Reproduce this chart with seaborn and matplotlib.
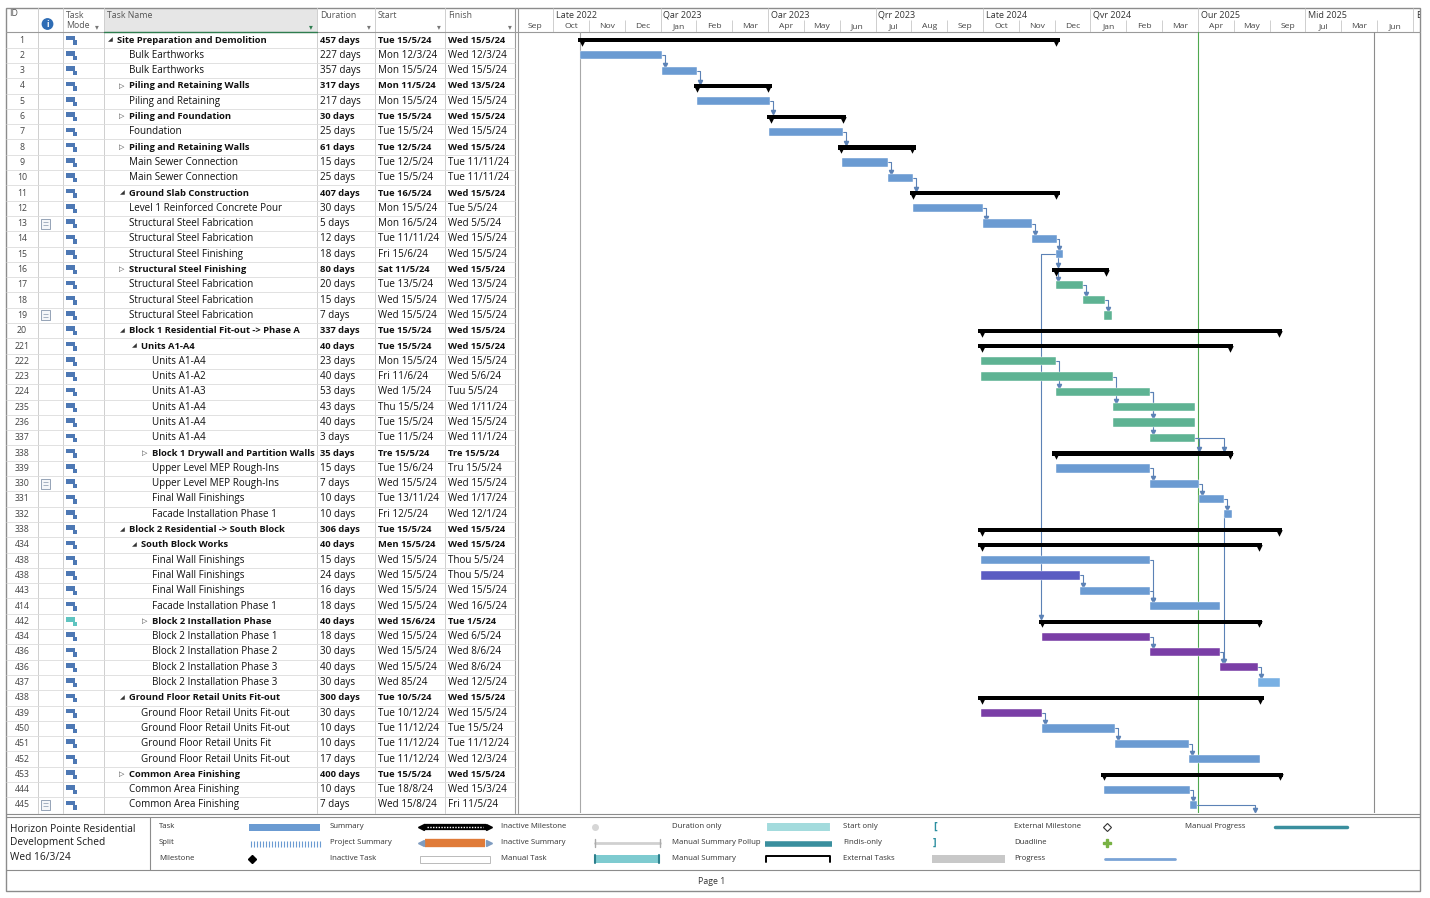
import numpy as np
import seaborn as sns
import matplotlib.pyplot as plt
from matplotlib.patches import Rectangle, Circle

sns.set_theme(style="white")
plt.rcParams['font.family'] = ['Open Sans', 'DejaVu Sans']

W, H = 1430, 898

# ---- task table ----
task_ids = [1, 2, 3, 4, 5, 6, 7, 8, 9, 10, 11, 12, 13, 14, 15, 16, 17, 18, 19, 20,
            221, 222, 223, 224, 235, 236, 337, 338, 339, 330, 331, 332,
            338, 434, 438, 438, 443, 414, 442, 434, 436, 436, 437,
            438, 439, 450, 451, 452, 453, 444, 445]
task_names = [
    "Site Preparation and Demolition", "Bulk Earthworks", "Bulk Earthworks",
    "Piling and Retaining Walls", "Piling and Retaining", "Piling and Foundation",
    "Foundation", "Piling and Retaining Walls", "Main Sewer Connection",
    "Main Sewer Connection", "Ground Slab Construction", "Level 1 Reinforced Concrete Pour",
    "Structural Steel Fabrication", "Structural Steel Fabrication", "Structural Steel Finishing",
    "Structural Steel Finishing", "Structural Steel Fabrication", "Structural Steel Fabrication",
    "Structural Steel Fabrication", "Block 1 Residential Fit-out -> Phase A",
    "Units A1-A4", "Units A1-A4", "Units A1-A2", "Units A1-A3", "Units A1-A4",
    "Units A1-A4", "Units A1-A4", "Block 1 Drywall and Partition Walls",
    "Upper Level MEP Rough-Ins", "Upper Level MEP Rough-Ins", "Final Wall Finishings",
    "Facade Installation Phase 1", "Block 2 Residential -> South Block", "South Block Works",
    "Final Wall Finishings", "Final Wall Finishings", "Final Wall Finishings",
    "Facade Installation Phase 1", "Block 2 Installation Phase", "Block 2 Installation Phase 1",
    "Block 2 Installation Phase 2", "Block 2 Installation Phase 3", "Block 2 Installation Phase 3",
    "Ground Floor Retail Units Fit-out", "Ground Floor Retail Units Fit-out",
    "Ground Floor Retail Units Fit-out", "Ground Floor Retail Units Fit",
    "Ground Floor Retail Units Fit-out", "Common Area Finishing", "Common Area Finishing",
    "Common Area Finishing"]
durations = ["457 days", "227 days", "357 days", "317 days", "217 days", "30 days", "25 days",
             "61 days", "15 days", "25 days", "407 days", "30 days", "5 days", "12 days",
             "18 days", "80 days", "20 days", "15 days", "7 days", "337 days",
             "40 days", "23 days", "40 days", "53 days", "43 days", "40 days", "3 days",
             "35 days", "15 days", "7 days", "10 days", "10 days",
             "306 days", "40 days", "15 days", "24 days", "16 days", "18 days", "40 days",
             "18 days", "30 days", "40 days", "30 days",
             "300 days", "30 days", "10 days", "10 days", "17 days", "400 days", "10 days", "7 days"]
start_dates = ["Tue 15/5/24", "Mon 12/3/24", "Mon 15/5/24", "Mon 11/5/24", "Mon 15/5/24",
               "Tue 15/5/24", "Tue 15/5/24", "Tue 12/5/24", "Tue 12/5/24", "Tue 15/5/24",
               "Tue 16/5/24", "Mon 15/5/24", "Mon 16/5/24", "Tue 11/11/24", "Fri 15/6/24",
               "Sat 11/5/24", "Tue 13/5/24", "Wed 15/5/24", "Wed 15/5/24", "Tue 15/5/24",
               "Tue 15/5/24", "Mon 15/5/24", "Fri 11/6/24", "Wed 1/5/24", "Thu 15/5/24",
               "Tue 15/5/24", "Tue 11/5/24", "Tre 15/5/24", "Tue 15/6/24", "Wed 15/5/24",
               "Tue 13/11/24", "Fri 12/5/24", "Tue 15/5/24", "Men 15/5/24", "Wed 15/5/24",
               "Wed 15/5/24", "Wed 15/5/24", "Wed 15/5/24", "Wed 15/6/24", "Wed 15/5/24",
               "Wed 15/5/24", "Wed 15/5/24", "Wed 85/24", "Tue 10/5/24", "Tue 10/12/24",
               "Tue 11/12/24", "Tue 11/12/24", "Tue 11/12/24", "Tue 15/5/24", "Tue 18/8/24",
               "Wed 15/8/24"]
finish_dates = ["Wed 15/5/24", "Wed 12/3/24", "Wed 15/5/24", "Wed 13/5/24", "Wed 15/5/24",
                "Wed 15/5/24", "Wed 15/5/24", "Wed 15/5/24", "Tue 11/11/24", "Tue 11/11/24",
                "Wed 15/5/24", "Tue 5/5/24", "Wed 5/5/24", "Wed 15/5/24", "Wed 15/5/24",
                "Wed 15/5/24", "Wed 13/5/24", "Wed 17/5/24", "Wed 15/5/24", "Wed 15/5/24",
                "Wed 15/5/24", "Wed 15/5/24", "Wed 5/6/24", "Tuu 5/5/24", "Wed 1/11/24",
                "Wed 15/5/24", "Wed 11/1/24", "Tre 15/5/24", "Tru 15/5/24", "Wed 15/5/24",
                "Wed 1/17/24", "Wed 12/1/24", "Wed 15/5/24", "Wed 15/5/24", "Thou 5/5/24",
                "Thou 5/5/24", "Wed 15/5/24", "Wed 16/5/24", "Tue 1/5/24", "Wed 6/5/24",
                "Wed 8/6/24", "Wed 8/6/24", "Wed 12/5/24", "Wed 15/5/24", "Wed 15/5/24",
                "Tue 15/5/24", "Tue 11/12/24", "Wed 12/3/24", "Wed 15/5/24", "Wed 15/3/24",
                "Fri 11/5/24"]
outline_levels = [0] + [1] * 19 + [2] + [3] * 11 + [1, 2] + [3] * 9 + [1] + [2] * 4 + [1] * 3
expanded_rows = [0, 10, 19, 20, 32, 33, 43]
collapsed_rows = [3, 5, 7, 15, 27, 38, 48]
note_rows = [12, 18, 29, 50]
manual_rows = [38]

# ---- gantt bars (months from start of Sep 2022) ----
bar_kind = ["sum", "b", "b", "sum", "b", "sum", "b", "sum", "b", "b",
            "sum", "b", "b", "b", "b", "sum", "g", "g", "g", "sum",
            "sum", "g", "g", "g", "g", "g", "g", "sum", "b", "b", "b", "b",
            "sum", "sum", "b", "i", "b", "b", "sum", "p", "p", "p", "lb",
            "sum", "p", "b", "b", "b", "sum", "b", "b"]
bar_start = [1.70, 1.75, 4.04, 4.93, 5.02, 6.97, 7.03, 8.95, 9.07, 10.35,
             10.96, 11.04, 13.00, 14.37, 15.04, 14.93, 15.04, 15.79, 16.38, 12.86,
             12.86, 12.95, 12.95, 15.04, 16.63, 16.63, 17.66, 14.93, 15.04, 17.66, 19.03, 19.73,
             12.86, 12.86, 12.95, 12.95, 15.71, 17.66, 14.56, 14.64, 17.66, 19.62, 20.68,
             12.86, 12.95, 14.64, 16.68, 18.75, 16.29, 16.38, 18.78]
bar_end = [15.15, 4.04, 5.02, 7.11, 7.05, 9.18, 9.09, 11.13, 10.35, 11.04,
           15.15, 13.00, 14.37, 15.07, 15.23, 16.52, 15.79, 16.41, 16.60, 21.35,
           19.99, 15.04, 16.63, 17.66, 18.92, 18.92, 18.92, 19.99, 17.66, 19.03, 19.73, 19.96,
           21.35, 20.79, 17.66, 15.71, 17.66, 19.62, 20.79, 17.66, 19.62, 20.68, 21.29,
           20.84, 14.64, 16.68, 18.75, 20.73, 21.38, 18.78, 18.97]
# links: predecessor row, successor row, leaving x, drop x
link_pred = [1, 2, 4, 6, 8, 9, 11, 12, 13, 14, 15, 16, 17, 14, 21, 22, 23, 23, 26, 26,
             28, 29, 30, 31, 34, 35, 36, 39, 40, 41, 44, 45, 46, 49, 50]
link_succ = [2, 3, 5, 7, 9, 10, 12, 13, 14, 15, 16, 17, 18, 38, 23, 24, 25, 26, 27, 27,
             29, 30, 31, 41, 37, 36, 37, 40, 41, 42, 45, 46, 47, 50, 51]
link_from = [4.04, 5.02, 7.05, 9.09, 10.35, 11.04, 13.00, 14.37, 15.07, 15.09, 15.09, 15.79,
             16.41, 15.04, 15.04, 16.63, 17.66, 17.66, 18.92, 18.92, 17.66, 19.03, 19.73,
             19.73, 17.66, 15.71, 17.66, 17.66, 19.62, 20.68, 14.64, 16.68, 18.75, 18.78, 18.97]
link_to = [4.12, 5.10, 7.13, 9.17, 10.43, 11.12, 13.08, 14.45, 15.12, 15.09, 15.09, 15.87,
           16.49, 14.62, 15.12, 16.71, 17.74, 17.74, 19.03, 19.73, 17.74, 19.11, 19.81,
           19.73, 17.74, 15.79, 17.74, 17.74, 19.70, 20.76, 14.72, 16.76, 18.83, 18.86, 20.60]

project_start = 1.75
status_date = 19.00
deadline_line = 23.91

month_labels = ["Sep", "Oct", "Nov", "Dec", "Jan", "Feb", "Mar", "Apr", "May", "Jun", "Jul",
                "Aug", "Sep", "Oct", "Nov", "Dec", "Jan", "Feb", "Mar", "Apr", "May", "Sep",
                "Jul", "Mar", "Jun"]
quarter_labels = ["Late 2022", "Qar 2023", "Oar 2023", "Qrr 2023", "Late 2024", "Qvr 2024",
                  "Our 2025", "Mid 2025", "E"]

bar_colors = {"b": "#6b9bd2", "g": "#5eb393", "i": "#5b5cc2", "p": "#7a3ea6", "lb": "#79b0e3"}
link_color = "#5c82b6"
n = len(task_ids)

fig = plt.figure(figsize=(W / 100, H / 100), dpi=100)


def axes_px(x0, y0, x1, y1):
    a = fig.add_axes([x0 / W, 1 - y1 / H, (x1 - x0) / W, (y1 - y0) / H])
    a.set_facecolor("none")
    a.axis("off")
    return a


ROW_TOP, ROW_BOT = 32.4, 812.6
GX0, GX1 = 517.2, 1420
XMAX = (GX1 - GX0) / 35.83

# background / frame axes in pixels
bg = axes_px(0, 0, W, H)
bg.set_xlim(0, W)
bg.set_ylim(H, 0)
bg.add_patch(Rectangle((104, 8), 213, 24.4, color="#e6e6e6", lw=0))
bg.add_patch(Rectangle((6, 8), 1414, 883, fill=False, ec="#8c8c8c", lw=1.0))
for cx in [38, 63, 104, 317, 375, 445]:
    bg.plot([cx, cx], [8, ROW_BOT], color="#cfcfcf", lw=0.7)
bg.plot([515, 515], [8, ROW_BOT], color="#9a9a9a", lw=0.8)
bg.plot([517.5, 517.5], [8, ROW_BOT], color="#9a9a9a", lw=0.8)
bg.plot([6, 1420], [ROW_TOP, ROW_TOP], color="#9a9a9a", lw=0.8)
bg.plot([104, 317], [ROW_TOP - 0.3, ROW_TOP - 0.3], color="#2e7d4f", lw=1.0)
hdr = dict(fontsize=6.3, color="#555555", va="center")
bg.text(9, 14, "ID", **hdr)
bg.text(66, 15, "Task", **hdr)
bg.text(66, 26, "Mode", **hdr)
bg.text(107, 15, "Task Name", **hdr)
bg.text(320, 15, "Duration", **hdr)
bg.text(378, 15, "Start", **hdr)
bg.text(448, 15, "Finish", **hdr)
bg.add_patch(Circle((47.5, 24), 5.2, color="#2f6db5"))
bg.text(47.5, 24.5, "i", color="white", fontsize=6, fontweight="bold", ha="center", va="center")
for dx, col in [(97, "#777777"), (311, "#2e7d4f"), (369, "#777777"), (439, "#777777"), (510, "#777777")]:
    bg.text(dx, 27, "▾", fontsize=5.5, color=col, ha="center", va="center",
            family=["DejaVu Sans"])

# bottom double line, legend box, footer
bg.plot([6, 1420], [813.5, 813.5], color="#8c8c8c", lw=0.8)
bg.plot([6, 1420], [816.5, 816.5], color="#8c8c8c", lw=0.8)
bg.plot([6, 1420], [870, 870], color="#8c8c8c", lw=0.8)
bg.plot([150, 150], [816.5, 870], color="#8c8c8c", lw=0.8)
for k, line in enumerate(["Horizon Pointe Residential", "Development Sched", "Wed 16/3/24"]):
    bg.text(10, 829 + k * 14, line, fontsize=7.3, color="#1a1a1a", va="center")
bg.text(712, 881, "Page 1", fontsize=6.3, color="#333333", ha="center", va="center")

leg_cols = [159, 330, 501, 672, 843, 1014, 1185]
leg_rows = [827, 843, 859]
leg_text = [["Task", "Split", "Milestone"],
            ["Summary", "Project Summary", "Inactive Task"],
            ["Inactive Milestone", "Inactive Summary", "Manual Task"],
            ["Duration only", "Manual Summary Pollup", "Manual Summary"],
            ["Start only", "Findis-only", "External Tasks"],
            ["External Milestone", "Duadline", "Progress"],
            ["Manual Progress"]]
for cx, labels in zip(leg_cols, leg_text):
    for ry, lab in zip(leg_rows, labels):
        bg.text(cx, ry, lab, fontsize=5.6, color="#333333", va="center")
# legend glyphs
bg.add_patch(Rectangle((249, 823.5), 71, 7, color=bar_colors["b"], lw=0))
bg.vlines(np.arange(251, 321, 3), 840.5, 846.5, color=bar_colors["b"], lw=0.8)
bg.plot([252], [858.5], marker="D", ms=4, color="black")
bg.plot([424, 486], [827, 827], color="black", lw=4.5, solid_capstyle="butt")
bg.plot([427, 483], [827, 827], color="white", lw=1, ls=(0, (1, 1)))
bg.plot([421], [827], marker="<", ms=5, color="black")
bg.plot([489], [827], marker=">", ms=5, color="black")
bg.plot([425, 485], [843, 843], color="#e07b39", lw=6, solid_capstyle="butt")
bg.plot([421], [843], marker="<", ms=4, color="#7f9cc0")
bg.plot([489], [843], marker=">", ms=4, color="#7f9cc0")
bg.add_patch(Rectangle((420, 855.5), 70, 7, fill=False, ec="#b0b0b0", lw=0.6))
bg.plot([595], [827], marker="o", ms=4, color="#d6d6d6")
bg.plot([595, 660], [843, 843], color="#d0d0d0", lw=2)
bg.plot([595, 595], [839, 847], color="#aaaaaa", lw=1)
bg.plot([660, 660], [839, 847], color="#aaaaaa", lw=1)
bg.add_patch(Rectangle((594, 855), 66, 8, color="#7ecbd0", lw=0))
bg.plot([595, 595], [855, 863], color="#2c7f8c", lw=1.5)
bg.plot([659, 659], [855, 863], color="#2c7f8c", lw=1.5)
bg.add_patch(Rectangle((765, 823), 67, 8, color="#a3dbdd", lw=0))
bg.plot([766, 766], [823, 831], color="white", lw=1.5)
bg.plot([831, 831], [823, 831], color="white", lw=1.5)
bg.plot([765, 832], [843.5, 843.5], color="#3a8f9e", lw=4, solid_capstyle="butt")
bg.plot([766, 766, 830, 830], [862, 856, 856, 862], color="black", lw=1.4)
bg.text(935, 827, "[", fontsize=8, color="#2c8fa0", fontweight="bold", ha="center", va="center")
bg.text(935, 843, "]", fontsize=8, color="#2c8fa0", fontweight="bold", ha="center", va="center")
bg.add_patch(Rectangle((932, 855), 73, 8, color="#c8c8c8", lw=0))
bg.plot([1107], [827], marker="D", ms=4, mfc="white", mec="#333333", mew=0.8)
bg.plot([1107], [843], marker="P", ms=6, color="#78b244")
bg.plot([1105, 1175], [859, 859], color="#7aa3d6", lw=2)
bg.plot([1275, 1347], [827, 827], color="#3a8f9e", lw=2.5)

# ---- table body ----
tb = axes_px(0, ROW_TOP, 517, ROW_BOT)
tb.set_xlim(0, 517)
tb.set_ylim(n - 0.5, -0.5)
tb.hlines(np.arange(n) + 0.5, 6, 515, color="#dcdcdc", lw=0.6)
summary_rows = set(expanded_rows) | set(collapsed_rows)
for i in range(n):
    is_bold = i in summary_rows
    txt = dict(fontsize=6.75 if is_bold else 7.1, fontweight="bold" if is_bold else "normal",
               color="#111111", va="center")
    tb.text(22, i, str(task_ids[i]), fontsize=6.3, color="#444444", ha="center", va="center")
    tx = 117 + 12 * outline_levels[i] - (1 if outline_levels[i] == 3 else 0)
    if i in expanded_rows:
        tb.text(tx - 7, i, "◢", fontsize=4.5, color="#333333", ha="center", va="center",
                family=["DejaVu Sans"])
    elif i in collapsed_rows:
        tb.text(tx - 7, i, "▷", fontsize=5, color="#333333", ha="center", va="center",
                family=["DejaVu Sans"])
    tb.text(tx, i, task_names[i], **txt)
    tb.text(320, i, durations[i], **txt)
    tb.text(378, i, start_dates[i], **txt)
    tb.text(448, i, finish_dates[i], **txt)
    # task mode icon
    mcol = "#5fc4c0" if i in manual_rows else "#4d78b4"
    tb.add_patch(Rectangle((66, i - 0.28), 9, 0.3, color=mcol, lw=0))
    tb.add_patch(Rectangle((73, i + 0.02), 3.5, 0.28, color=mcol, lw=0))
    if i in note_rows:
        tb.add_patch(Rectangle((40.5, i - 0.33), 9, 0.66, fc="#f4f6f9", ec="#8595ab", lw=0.6))
        tb.hlines([i - 0.1, i + 0.08], 42.5, 47.5, color="#8595ab", lw=0.5)

# ---- timescale header ----
th = axes_px(GX0, 8, GX1, ROW_TOP)
th.set_xlim(0, XMAX)
th.set_ylim(1, 0)
months = np.arange(len(month_labels))
th.vlines(months[1:], 0.5, 1, color="#cfcfcf", lw=0.7)
quarters = np.arange(1, len(month_labels) + 1, 3)
th.vlines(quarters, 0, 1, color="#cfcfcf", lw=0.7)
for m, lab in zip(months, month_labels):
    th.text(m + 0.5, 0.76, lab, fontsize=6.1, color="#444444", ha="center", va="center")
for q, lab in zip(quarters, quarter_labels):
    th.text(q + 0.08, 0.3, lab, fontsize=6.5, color="#333333", va="center", clip_on=True)

# ---- gantt ----
ax = axes_px(GX0, ROW_TOP, GX1, ROW_BOT)
ax.set_xlim(0, XMAX)
ax.set_ylim(n - 0.5, -0.5)
ax.axvline(project_start, color="#a8a8a8", lw=0.8)
ax.axvline(status_date, color="#4fa84f", lw=0.8)
ax.axvline(deadline_line, color="#8c8c8c", lw=0.8)

rows = np.arange(n)
starts = np.array(bar_start)
ends = np.array(bar_end)
is_sum = np.array([k == "sum" for k in bar_kind])
task_cols = np.array([bar_colors.get(k, "black") for k in bar_kind], dtype=object)

for p, s, xf, xt in zip(link_pred, link_succ, link_from, link_to):
    y_end = n - 0.55 if s >= n else s - (0.17 if is_sum[s] else 0.3)
    ax.plot([xf, xt, xt], [p, p, y_end - 0.12], color=link_color, lw=0.8, zorder=2)
    ax.plot([xt], [y_end - 0.1], marker="v", ms=3, color=link_color, zorder=2)

ax.barh(rows[~is_sum], (ends - starts)[~is_sum], left=starts[~is_sum], height=0.54,
        color=task_cols[~is_sum], edgecolor="white", linewidth=0.3, zorder=3)
ax.barh(rows[is_sum] + 0.02, (ends - starts)[is_sum], left=starts[is_sum], height=0.28,
        color="black", linewidth=0, zorder=3)
ax.scatter(starts[is_sum] + 0.1, rows[is_sum] + 0.2, marker="v", s=22, color="black",
           linewidths=0, zorder=3)
ax.scatter(ends[is_sum] - 0.1, rows[is_sum] + 0.2, marker="v", s=22, color="black",
           linewidths=0, zorder=3)

fig.savefig("out.png", dpi=100)
